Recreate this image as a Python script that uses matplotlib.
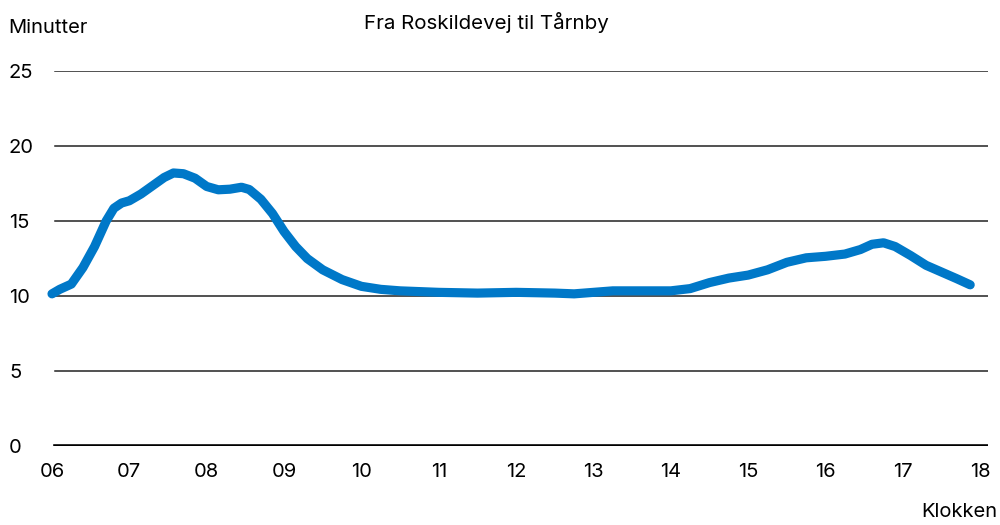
import numpy as np
import matplotlib.pyplot as plt

plt.rcParams['font.family'] = ['Inter', 'DejaVu Sans']

# klokkeslaet (timer) og rejsetid (minutter)
hours = [6.0, 6.1, 6.25, 6.4, 6.55, 6.7, 6.8, 6.9, 7.0, 7.15, 7.3, 7.45, 7.57, 7.7,
         7.85, 8.0, 8.15, 8.3, 8.45, 8.55, 8.7, 8.85, 9.0, 9.15, 9.3, 9.5,
         9.75, 10.0, 10.25, 10.5, 11.0, 11.5, 12.0, 12.5, 12.75, 13.0, 13.25,
         13.5, 14.0, 14.25, 14.5, 14.75, 15.0, 15.25, 15.5, 15.75, 16.0,
         16.25, 16.45, 16.6, 16.75, 16.9, 17.1, 17.3, 17.5, 17.7, 17.87]
minutes = [10.15, 10.45, 10.8, 11.9, 13.3, 15.0, 15.85, 16.2, 16.35, 16.8, 17.35,
           17.9, 18.2, 18.15, 17.85, 17.3, 17.08, 17.12, 17.25, 17.1, 16.45, 15.5,
           14.3, 13.3, 12.5, 11.75, 11.1, 10.65, 10.45, 10.35, 10.25, 10.2, 10.25,
           10.2, 10.15, 10.25, 10.35, 10.35, 10.35, 10.5, 10.9, 11.2, 11.4,
           11.75, 12.25, 12.55, 12.65, 12.8, 13.1, 13.45, 13.55, 13.3, 12.7,
           12.05, 11.6, 11.15, 10.75]

x_ticks = list(range(6, 19))
x_labels = ['%02d' % h for h in x_ticks]
y_ticks = [0, 5, 10, 15, 20, 25]

fig = plt.figure(figsize=(10, 5.25), dpi=100)
ax = fig.add_axes([0.052, 0.150, 0.936, 0.715])

for y in y_ticks[1:]:
    ax.axhline(y, xmin=0.003, color='#222222', lw=1.1, zorder=1)
ax.axhline(0, xmin=0.003, color='black', lw=2.6, zorder=1)

ax.plot(hours, minutes, color='#0078C8', lw=6.6, solid_capstyle='round',
        solid_joinstyle='round', zorder=3, clip_on=False)

ax.set_xlim(6, 18.1)
ax.set_ylim(0, 25)
ax.set_xticks(x_ticks)
ax.set_xticklabels(x_labels, fontsize=14.5)
ax.set_yticks(y_ticks)
ax.set_yticklabels([str(v) for v in y_ticks], fontsize=14.5)
for lab in ax.get_yticklabels():
    lab.set_horizontalalignment('left')
ax.tick_params(axis='y', length=0, pad=31)
ax.tick_params(axis='x', length=0, pad=12)
for s in ax.spines.values():
    s.set_visible(False)

fig.text(0.008, 0.947, 'Minutter', fontsize=14.5, va='center', ha='left')
fig.text(0.997, 0.025, 'Klokken', fontsize=14.5, va='center', ha='right')
fig.text(0.486, 0.957, 'Fra Roskildevej til Tårnby', fontsize=14.8, va='center', ha='center')

fig.savefig('out.png', dpi=100)
